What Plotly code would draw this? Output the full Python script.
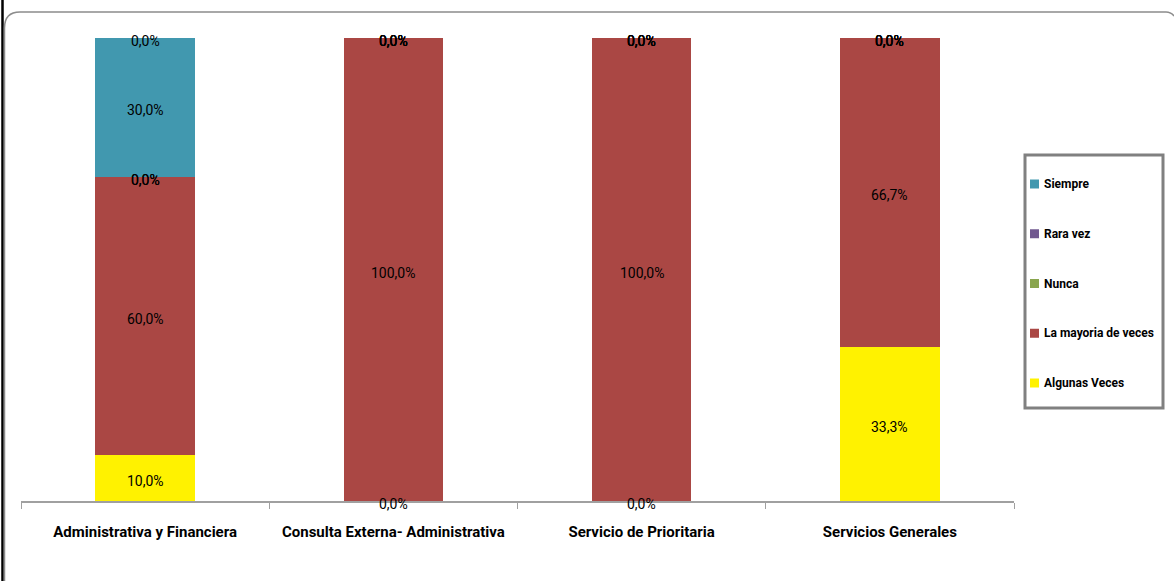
import plotly.graph_objects as go

# Categories (areas) and response shares in percent, stacked bottom to top
categorias = [
    "Administrativa y Financiera",
    "Consulta Externa- Administrativa",
    "Servicio de Prioritaria",
    "Servicios Generales",
]
algunas_veces = [10.0, 0.0, 0.0, 33.3]
la_mayoria = [60.0, 100.0, 100.0, 66.7]
nunca = [0.0, 0.0, 0.0, 0.0]
rara_vez = [0.0, 0.0, 0.0, 0.0]
siempre = [30.0, 0.0, 0.0, 0.0]
sin_respuesta = [0.0, 0.0, 0.0, 0.0]

series = [
    ("Algunas Veces", algunas_veces, "#FFF200", True),
    ("La mayoria de veces", la_mayoria, "#AA4744", True),
    ("Nunca", nunca, "#89A54E", True),
    ("Rara vez", rara_vez, "#71588F", True),
    ("Siempre", siempre, "#4198AF", True),
    ("Sin respuesta", sin_respuesta, "#4198AF", False),
]

LABEL_FONT = "Liberation Sans Narrow, Arial Narrow, Roboto, sans-serif"

# Pixel geometry of the plotting area inside the 1174x581 canvas
W, H = 1174, 581
PX_L, PX_R, PX_T, PX_B = 21, 1014, 38, 501


def px(x):
    return (x - PX_L) / (PX_R - PX_L)


def py(y):
    return (PX_B - y) / (PX_B - PX_T)


def fmt(v):
    return f"{v:.1f}".replace(".", ",") + "%"


fig = go.Figure()
annotations = []

base = [0.0] * len(categorias)
for nombre, vals, color, leyenda in series:
    fig.add_trace(go.Bar(
        name=nombre, x=categorias, y=vals, width=0.4,
        marker=dict(color=color, line=dict(width=0)),
        showlegend=False, hoverinfo="skip",
    ))
    # Value labels centred on each segment (zero segments sit on the boundary)
    for i, v in enumerate(vals):
        annotations.append(dict(
            x=categorias[i], y=base[i] + v / 2, xref="x", yref="y",
            text=fmt(v), showarrow=False, yshift=-3,
            xanchor="center", yanchor="middle",
            font=dict(family=LABEL_FONT, size=14, color="#000000"),
        ))
        base[i] += v

# Frame: dark left edge and rounded grey outline along the top
shapes = [
    dict(type="line", xref="paper", yref="paper",
         x0=px(2.5), x1=px(2.5), y0=py(0), y1=py(581),
         line=dict(color="#000000", width=2.5)),
    dict(type="path", xref="paper", yref="paper",
         path=(f"M {px(4.5)},{py(581)} L {px(4.5)},{py(28)} "
               f"Q {px(4.5)},{py(12)} {px(20)},{py(12)} "
               f"L {px(1166)},{py(12)} Q {px(1171)},{py(12)} {px(1174)},{py(16)}"),
         line=dict(color="#8C8C8C", width=1.5)),
    # legend box
    dict(type="rect", xref="paper", yref="paper",
         x0=px(1025), x1=px(1163), y0=py(155), y1=py(408),
         line=dict(color="#808080", width=3), fillcolor="rgba(0,0,0,0)"),
]

# Legend entries, top to bottom in reverse stacking order
entradas = [s for s in series if s[3]][::-1]
for k, (nombre, _, color, _) in enumerate(entradas):
    yc = 184 + k * 49.75
    shapes.append(dict(
        type="rect", xref="paper", yref="paper",
        x0=px(1030), x1=px(1039), y0=py(yc - 4.5), y1=py(yc + 4.5),
        line=dict(width=0), fillcolor=color,
    ))
    annotations.append(dict(
        xref="paper", yref="paper", x=px(1042), y=py(yc),
        xanchor="left", yanchor="middle", showarrow=False,
        text=f"<b>{nombre}</b>",
        font=dict(family=LABEL_FONT, size=12, color="#000000"),
    ))

fig.update_layout(
    width=W, height=H,
    margin=dict(l=PX_L, r=W - PX_R, t=PX_T, b=H - PX_B, pad=0),
    barmode="stack",
    showlegend=False,
    paper_bgcolor="#FFFFFF", plot_bgcolor="#FFFFFF",
    shapes=shapes,
    annotations=annotations,
    xaxis=dict(
        type="category", range=[-0.5, 3.5],
        showline=True, linecolor="#A0A0A0", linewidth=1.5,
        ticks="outside", tickson="boundaries", ticklen=6,
        tickcolor="#A0A0A0", tickwidth=1,
        showgrid=False, zeroline=False,
        tickfont=dict(family=LABEL_FONT, size=15, color="#000000", weight="bold"),
        ticklabelstandoff=16,
    ),
    yaxis=dict(
        range=[0, 100], visible=False, showgrid=False, zeroline=False,
    ),
)

fig.write_html("out.html")
